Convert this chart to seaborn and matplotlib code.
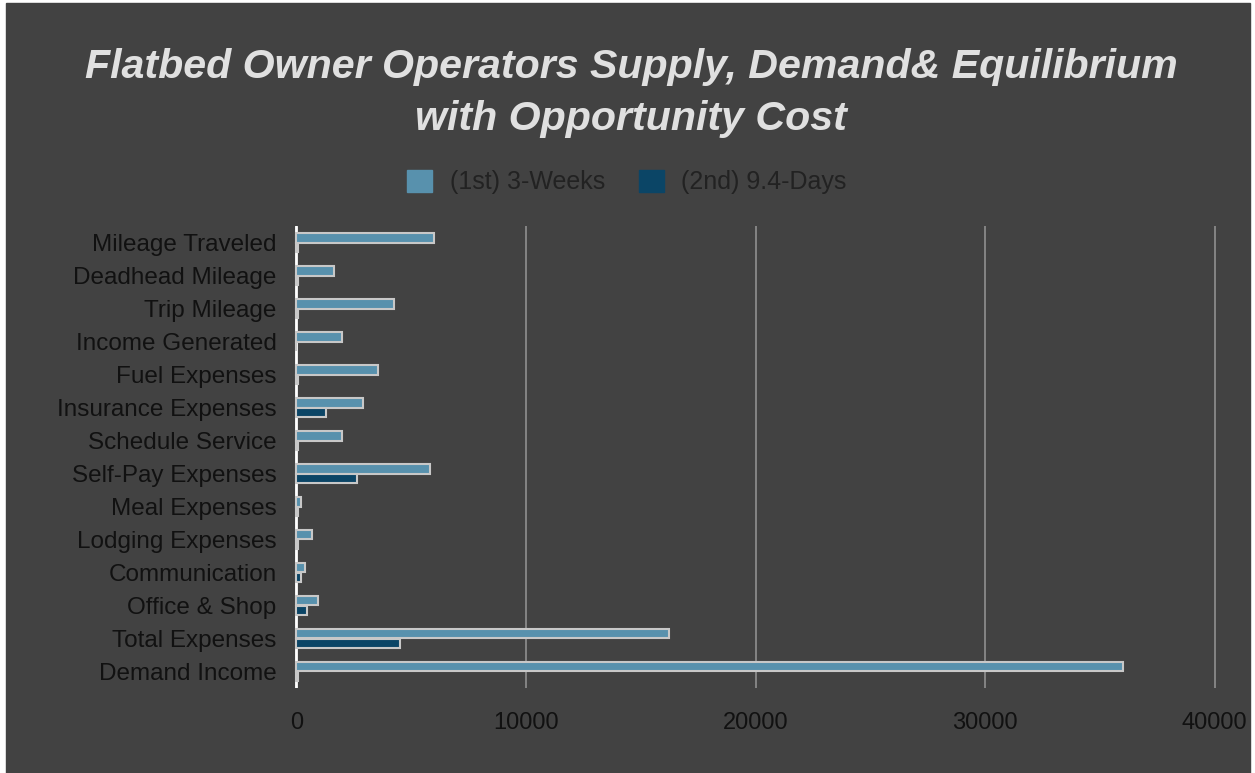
# horizontal grouped bars: supply / demand per category
import pandas as pd
import matplotlib.pyplot as plt
import seaborn as sns

categories = ['Mileage Traveled', 'Deadhead Mileage', 'Trip Mileage', 'Income Generated',
              'Fuel Expenses', 'Insurance Expenses', 'Schedule Service', 'Self-Pay Expenses',
              'Meal Expenses', 'Lodging Expenses', 'Communication', 'Office & Shop',
              'Total Expenses', 'Demand Income']
weeks_3 = [6000, 1650, 4270, 2000, 3550, 2920, 2000, 5810, 200, 660, 370, 920, 16250, 36000]
days_94 = [60, 60, 60, 0, 60, 1280, 60, 2630, 80, 60, 200, 470, 4530, 60]
series = ['(1st) 3-Weeks', '(2nd) 9.4-Days']

df = pd.DataFrame({
    'category': categories * 2,
    'value': weeks_3 + days_94,
    'series': [series[0]] * len(categories) + [series[1]] * len(categories),
})

bg = '#424242'
sns.set_theme(style='dark', rc={'axes.facecolor': bg, 'figure.facecolor': 'white'})
plt.rcParams['font.family'] = ['Liberation Sans', 'DejaVu Sans']

fig = plt.figure(figsize=(12.55, 7.73), dpi=100)
# dark panel with the thin white edge of the original screenshot
fig.patches.append(plt.Rectangle((6 / 1255, 0), 1244 / 1255, 770 / 773,
                                 transform=fig.transFigure, color=bg, zorder=-1))
ax = fig.add_axes([291.8 / 1255, 1 - 688 / 773, (1217 - 291.8) / 1255, (688 - 226) / 773])

sns.barplot(data=df, y='category', x='value', hue='series', orient='h', ax=ax,
            palette=['#5891ad', '#0b4566'], width=0.6, edgecolor='#c8c8c8',
            linewidth=1.5, saturation=1, legend=False, zorder=3)

ax.set_xlim(-200, 40100)
ax.set_xticks([0, 10000, 20000, 30000, 40000])
ax.grid(axis='x', color='#8f8f8f', linewidth=1.2)
ax.grid(axis='y', visible=False)
ax.set_axisbelow(True)
ax.axvline(0, color='white', linewidth=2, zorder=2)
for s in ax.spines.values():
    s.set_visible(False)
ax.set_xlabel('')
ax.set_ylabel('')
ax.tick_params(axis='y', labelsize=17.5, colors='#111111', length=0, pad=11)
ax.tick_params(axis='x', labelsize=17, colors='#111111', length=0, pad=17)

fig.text(0.503, 1 - 93 / 773, 'Flatbed Owner Operators Supply, Demand& Equilibrium\nwith Opportunity Cost',
         ha='center', va='center', fontsize=29.6, fontweight='bold', fontstyle='italic',
         color='#e0e0e0', linespacing=1.45)

handles = [plt.Rectangle((0, 0), 1, 1, color=c) for c in ['#5891ad', '#0b4566']]
fig.legend(handles, series, loc='center', bbox_to_anchor=(0.4995, 1 - 182 / 773), ncol=2,
           frameon=False, fontsize=18, labelcolor='#222222', handlelength=1.0,
           handleheight=1.0, columnspacing=1.35, handletextpad=0.7)

fig.savefig('out.png', dpi=100)
